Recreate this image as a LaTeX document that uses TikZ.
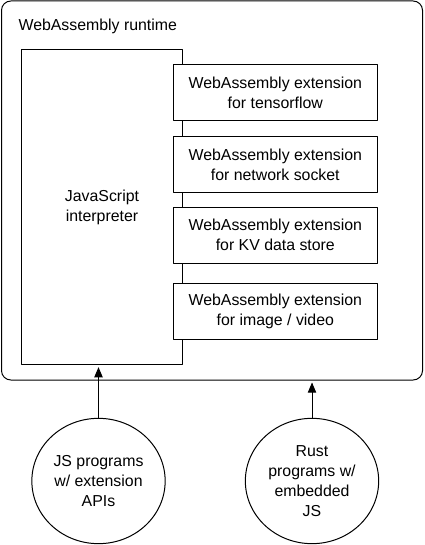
\documentclass[tikz,border=0pt]{standalone}
\usepackage{fontspec}
\setmainfont{Liberation Sans}
\usetikzlibrary{arrows}
\usetikzlibrary{positioning}
\usetikzlibrary{shapes.geometric}

\tikzset{
  box/.style={draw,line width=0.75pt,fill=white,align=center,inner sep=0pt,
    font=\fontsize{11.9pt}{15pt}\selectfont},
  extbox/.style={box,minimum width=153pt,minimum height=42pt},
  prog/.style={box,ellipse,minimum width=100pt,minimum height=94pt},
  arr/.style={->,line width=0.75pt,shorten >=1.5pt}
}

\begin{document}
\begin{tikzpicture}[line cap=round,line join=round,>=triangle 45,x=0.75pt,y=-0.75pt]
\useasboundingbox (0,0) rectangle (424,545);
% outer runtime box
\node[box,rounded corners=7pt,minimum width=315.75pt,minimum height=284.25pt] (runtime) at (212,190.5) {};
\node[anchor=west,inner sep=0pt,font=\fontsize{11.9pt}{15pt}\selectfont] (title) at (18.3,26) {WebAssembly runtime};
% interpreter and extensions
\node[box,minimum width=121pt,minimum height=236.5pt] (interp) at (102,207) {JavaScript\\interpreter};
\node[extbox] (tensorflow) at (275.3,93) {WebAssembly extension\\for tensorflow};
\node[extbox] (socket) at (275.3,164.7) {WebAssembly extension\\for network socket};
\node[extbox] (kvstore) at (275.3,235.3) {WebAssembly extension\\for KV data store};
\node[extbox] (media) at (275.3,311) {WebAssembly extension\\for image / video};
% programs
\node[prog] (jsprog) at (98.5,481) {JS programs\\w/ extension\\APIs};
\node[prog] (rsprog) at (312,481) {Rust\\programs w/\\embedded\\JS};
\draw[arr] (jsprog.north) -- (jsprog.north |- interp.south);
\draw[arr] (rsprog.north) -- (rsprog.north |- runtime.south);
\end{tikzpicture}
\end{document}
